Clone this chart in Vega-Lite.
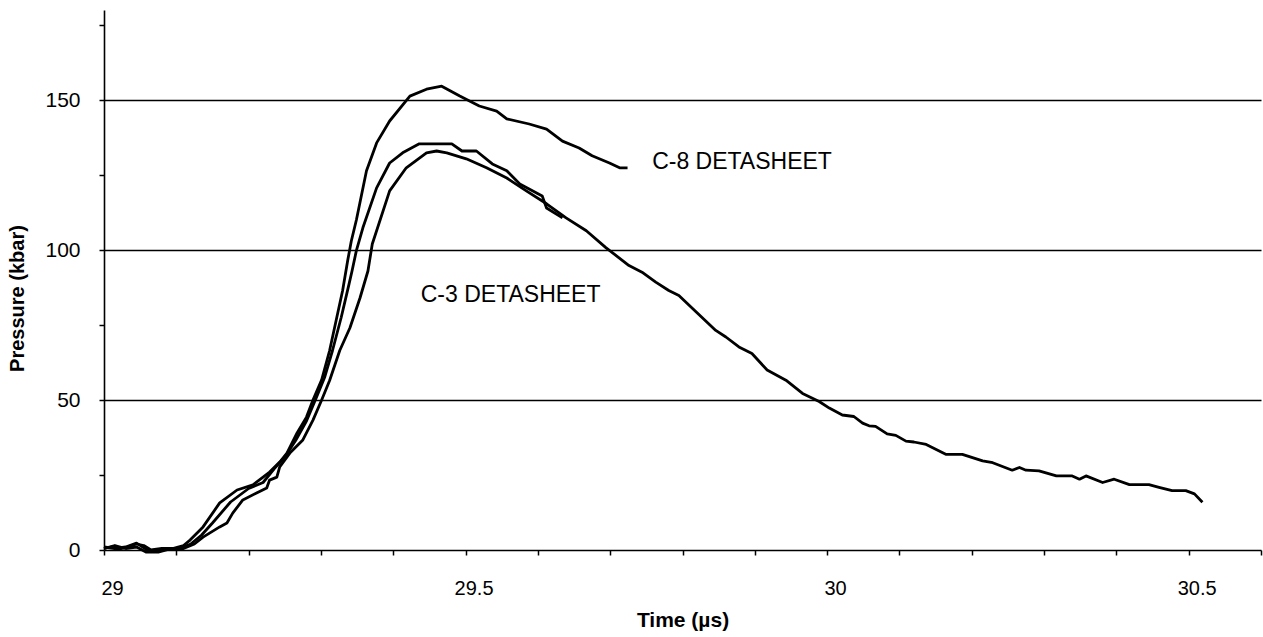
{
  "$schema": "https://vega.github.io/schema/vega-lite/v6.json",
  "width": 1157,
  "height": 540,
  "autosize": "none",
  "padding": {"left": 104, "top": 10, "right": 2, "bottom": 87},
  "background": "white",
  "config": {"view": {"stroke": null}, "font": "Liberation Sans"},
  "datasets": {
    "curves": [
      {"series": "C8", "t": 29.000, "p": 0.5},
      {"series": "C8", "t": 29.010, "p": 1.0},
      {"series": "C8", "t": 29.020, "p": 0.3},
      {"series": "C8", "t": 29.030, "p": 0.8},
      {"series": "C8", "t": 29.045, "p": 2.0},
      {"series": "C8", "t": 29.055, "p": 1.5},
      {"series": "C8", "t": 29.065, "p": 0.0},
      {"series": "C8", "t": 29.080, "p": 0.5},
      {"series": "C8", "t": 29.095, "p": 0.5},
      {"series": "C8", "t": 29.110, "p": 1.5},
      {"series": "C8", "t": 29.119, "p": 3.3},
      {"series": "C8", "t": 29.137, "p": 7.7},
      {"series": "C8", "t": 29.160, "p": 15.7},
      {"series": "C8", "t": 29.184, "p": 20.0},
      {"series": "C8", "t": 29.206, "p": 21.7},
      {"series": "C8", "t": 29.220, "p": 24.3},
      {"series": "C8", "t": 29.229, "p": 26.0},
      {"series": "C8", "t": 29.243, "p": 29.3},
      {"series": "C8", "t": 29.253, "p": 32.3},
      {"series": "C8", "t": 29.267, "p": 39.0},
      {"series": "C8", "t": 29.280, "p": 44.3},
      {"series": "C8", "t": 29.289, "p": 50.0},
      {"series": "C8", "t": 29.301, "p": 56.7},
      {"series": "C8", "t": 29.312, "p": 66.5},
      {"series": "C8", "t": 29.321, "p": 76.5},
      {"series": "C8", "t": 29.330, "p": 86.5},
      {"series": "C8", "t": 29.337, "p": 96.5},
      {"series": "C8", "t": 29.342, "p": 103.0},
      {"series": "C8", "t": 29.349, "p": 110.0},
      {"series": "C8", "t": 29.363, "p": 126.4},
      {"series": "C8", "t": 29.377, "p": 135.7},
      {"series": "C8", "t": 29.395, "p": 143.0},
      {"series": "C8", "t": 29.423, "p": 151.3},
      {"series": "C8", "t": 29.446, "p": 153.6},
      {"series": "C8", "t": 29.467, "p": 154.6},
      {"series": "C8", "t": 29.492, "p": 151.3},
      {"series": "C8", "t": 29.519, "p": 148.0},
      {"series": "C8", "t": 29.543, "p": 146.3},
      {"series": "C8", "t": 29.557, "p": 143.7},
      {"series": "C8", "t": 29.588, "p": 142.0},
      {"series": "C8", "t": 29.612, "p": 140.3},
      {"series": "C8", "t": 29.634, "p": 136.3},
      {"series": "C8", "t": 29.657, "p": 134.0},
      {"series": "C8", "t": 29.675, "p": 131.4},
      {"series": "C8", "t": 29.699, "p": 129.0},
      {"series": "C8", "t": 29.713, "p": 127.4},
      {"series": "C8", "t": 29.724, "p": 127.4},

      {"series": "B", "t": 29.000, "p": 1.0},
      {"series": "B", "t": 29.015, "p": 0.5},
      {"series": "B", "t": 29.030, "p": 1.0},
      {"series": "B", "t": 29.045, "p": 2.3},
      {"series": "B", "t": 29.060, "p": 0.0},
      {"series": "B", "t": 29.075, "p": -0.5},
      {"series": "B", "t": 29.090, "p": 0.5},
      {"series": "B", "t": 29.105, "p": 0.5},
      {"series": "B", "t": 29.120, "p": 2.0},
      {"series": "B", "t": 29.135, "p": 5.0},
      {"series": "B", "t": 29.150, "p": 9.0},
      {"series": "B", "t": 29.175, "p": 16.0},
      {"series": "B", "t": 29.200, "p": 20.5},
      {"series": "B", "t": 29.220, "p": 22.5},
      {"series": "B", "t": 29.235, "p": 27.0},
      {"series": "B", "t": 29.250, "p": 31.0},
      {"series": "B", "t": 29.265, "p": 36.5},
      {"series": "B", "t": 29.280, "p": 43.0},
      {"series": "B", "t": 29.294, "p": 51.0},
      {"series": "B", "t": 29.305, "p": 57.5},
      {"series": "B", "t": 29.316, "p": 66.5},
      {"series": "B", "t": 29.328, "p": 77.5},
      {"series": "B", "t": 29.339, "p": 88.8},
      {"series": "B", "t": 29.343, "p": 93.0},
      {"series": "B", "t": 29.349, "p": 99.8},
      {"series": "B", "t": 29.358, "p": 107.4},
      {"series": "B", "t": 29.377, "p": 120.7},
      {"series": "B", "t": 29.395, "p": 129.0},
      {"series": "B", "t": 29.413, "p": 132.4},
      {"series": "B", "t": 29.436, "p": 135.4},
      {"series": "B", "t": 29.481, "p": 135.4},
      {"series": "B", "t": 29.495, "p": 133.0},
      {"series": "B", "t": 29.515, "p": 133.0},
      {"series": "B", "t": 29.537, "p": 128.7},
      {"series": "B", "t": 29.557, "p": 126.4},
      {"series": "B", "t": 29.575, "p": 122.0},
      {"series": "B", "t": 29.606, "p": 118.0},
      {"series": "B", "t": 29.612, "p": 114.0},
      {"series": "B", "t": 29.634, "p": 110.7},

      {"series": "C3", "t": 29.000, "p": 0.5},
      {"series": "C3", "t": 29.015, "p": 1.5},
      {"series": "C3", "t": 29.030, "p": 0.5},
      {"series": "C3", "t": 29.045, "p": 1.0},
      {"series": "C3", "t": 29.058, "p": -0.7},
      {"series": "C3", "t": 29.075, "p": -0.7},
      {"series": "C3", "t": 29.090, "p": 0.3},
      {"series": "C3", "t": 29.110, "p": 0.5},
      {"series": "C3", "t": 29.125, "p": 2.0},
      {"series": "C3", "t": 29.137, "p": 4.3},
      {"series": "C3", "t": 29.160, "p": 7.7},
      {"series": "C3", "t": 29.170, "p": 9.0},
      {"series": "C3", "t": 29.178, "p": 12.3},
      {"series": "C3", "t": 29.192, "p": 16.7},
      {"series": "C3", "t": 29.211, "p": 19.0},
      {"series": "C3", "t": 29.225, "p": 20.7},
      {"series": "C3", "t": 29.229, "p": 23.3},
      {"series": "C3", "t": 29.239, "p": 24.3},
      {"series": "C3", "t": 29.243, "p": 27.7},
      {"series": "C3", "t": 29.257, "p": 32.3},
      {"series": "C3", "t": 29.275, "p": 36.7},
      {"series": "C3", "t": 29.289, "p": 43.3},
      {"series": "C3", "t": 29.301, "p": 50.0},
      {"series": "C3", "t": 29.312, "p": 56.5},
      {"series": "C3", "t": 29.326, "p": 66.5},
      {"series": "C3", "t": 29.340, "p": 74.0},
      {"series": "C3", "t": 29.354, "p": 84.0},
      {"series": "C3", "t": 29.365, "p": 93.0},
      {"series": "C3", "t": 29.371, "p": 102.0},
      {"series": "C3", "t": 29.395, "p": 119.7},
      {"series": "C3", "t": 29.418, "p": 127.4},
      {"series": "C3", "t": 29.446, "p": 132.4},
      {"series": "C3", "t": 29.460, "p": 133.0},
      {"series": "C3", "t": 29.474, "p": 132.4},
      {"series": "C3", "t": 29.501, "p": 130.4},
      {"series": "C3", "t": 29.529, "p": 127.4},
      {"series": "C3", "t": 29.557, "p": 124.0},
      {"series": "C3", "t": 29.584, "p": 119.7},
      {"series": "C3", "t": 29.612, "p": 115.4},
      {"series": "C3", "t": 29.639, "p": 110.7},
      {"series": "C3", "t": 29.667, "p": 106.4},
      {"series": "C3", "t": 29.694, "p": 100.8},
      {"series": "C3", "t": 29.726, "p": 94.8},
      {"series": "C3", "t": 29.744, "p": 92.6},
      {"series": "C3", "t": 29.763, "p": 89.3},
      {"series": "C3", "t": 29.781, "p": 86.5},
      {"series": "C3", "t": 29.795, "p": 84.8},
      {"series": "C3", "t": 29.819, "p": 79.3},
      {"series": "C3", "t": 29.846, "p": 73.2},
      {"series": "C3", "t": 29.860, "p": 71.0},
      {"series": "C3", "t": 29.878, "p": 67.7},
      {"series": "C3", "t": 29.896, "p": 65.5},
      {"series": "C3", "t": 29.917, "p": 60.0},
      {"series": "C3", "t": 29.943, "p": 56.6},
      {"series": "C3", "t": 29.966, "p": 52.2},
      {"series": "C3", "t": 29.989, "p": 49.5},
      {"series": "C3", "t": 30.003, "p": 47.3},
      {"series": "C3", "t": 30.021, "p": 45.0},
      {"series": "C3", "t": 30.037, "p": 44.5},
      {"series": "C3", "t": 30.049, "p": 42.3},
      {"series": "C3", "t": 30.058, "p": 41.4},
      {"series": "C3", "t": 30.067, "p": 41.2},
      {"series": "C3", "t": 30.083, "p": 38.7},
      {"series": "C3", "t": 30.095, "p": 38.2},
      {"series": "C3", "t": 30.109, "p": 36.3},
      {"series": "C3", "t": 30.120, "p": 36.0},
      {"series": "C3", "t": 30.137, "p": 35.2},
      {"series": "C3", "t": 30.164, "p": 31.9},
      {"series": "C3", "t": 30.187, "p": 31.9},
      {"series": "C3", "t": 30.201, "p": 30.8},
      {"series": "C3", "t": 30.215, "p": 29.7},
      {"series": "C3", "t": 30.229, "p": 29.1},
      {"series": "C3", "t": 30.256, "p": 26.6},
      {"series": "C3", "t": 30.266, "p": 27.5},
      {"series": "C3", "t": 30.275, "p": 26.6},
      {"series": "C3", "t": 30.293, "p": 26.4},
      {"series": "C3", "t": 30.317, "p": 24.7},
      {"series": "C3", "t": 30.339, "p": 24.7},
      {"series": "C3", "t": 30.349, "p": 23.6},
      {"series": "C3", "t": 30.358, "p": 24.7},
      {"series": "C3", "t": 30.381, "p": 22.5},
      {"series": "C3", "t": 30.397, "p": 23.6},
      {"series": "C3", "t": 30.418, "p": 21.8},
      {"series": "C3", "t": 30.445, "p": 21.8},
      {"series": "C3", "t": 30.459, "p": 20.9},
      {"series": "C3", "t": 30.477, "p": 19.8},
      {"series": "C3", "t": 30.496, "p": 19.8},
      {"series": "C3", "t": 30.508, "p": 18.7},
      {"series": "C3", "t": 30.519, "p": 15.9}
    ],
    "labels": [
      {"t": 29.758, "p": 129.3, "label": "C-8 DETASHEET"},
      {"t": 29.438, "p": 85.0, "label": "C-3 DETASHEET"}
    ]
  },
  "layer": [
    {
      "data": {"name": "curves"},
      "mark": {"type": "line", "color": "black", "strokeWidth": 2.8, "strokeJoin": "round"},
      "encoding": {
        "x": {
          "field": "t",
          "type": "quantitative",
          "title": "Time (µs)",
          "scale": {"domain": [29, 30.6], "nice": false, "zero": false},
          "axis": {
            "values": [29, 29.1, 29.2, 29.3, 29.4, 29.5, 29.6, 29.7, 29.8, 29.9, 30, 30.1, 30.2, 30.3, 30.4, 30.5, 30.6],
            "labelExpr": "datum.value == 29 || datum.value == 29.5 || datum.value == 30 || datum.value == 30.5 ? format(datum.value, '') : ''",
            "grid": false,
            "domainColor": "black",
            "domainWidth": 1.6,
            "tickColor": "black",
            "tickWidth": 1.5,
            "tickSize": 5,
            "labelPadding": 23,
            "labelOffset": 8,
            "labelFontSize": 20,
            "labelColor": "black",
            "labelFont": "Liberation Sans",
            "labelFlush": false,
            "labelOverlap": false,
            "titleFontSize": 21,
            "titleFontWeight": "bold",
            "titleColor": "black",
            "titleFont": "Liberation Sans",
            "titlePadding": 11
          }
        },
        "y": {
          "field": "p",
          "type": "quantitative",
          "title": "Pressure (kbar)",
          "scale": {"domain": [0, 180], "nice": false},
          "axis": {
            "values": [0, 25, 50, 75, 100, 125, 150, 175],
            "labelExpr": "datum.value % 50 == 0 ? datum.label : ''",
            "grid": true,
            "gridColor": "black",
            "gridWidth": 1.5,
            "gridOpacity": {"condition": {"test": "datum.value % 50 == 0 && datum.value > 0", "value": 1}, "value": 0},
            "domainColor": "black",
            "domainWidth": 1.6,
            "tickColor": "black",
            "tickWidth": 1.5,
            "tickSize": 5,
            "labelPadding": 19,
            "labelFontSize": 21,
            "labelColor": "black",
            "labelFont": "Liberation Sans",
            "labelFlush": false,
            "labelOverlap": false,
            "titleFontSize": 20,
            "titleFontWeight": "bold",
            "titleColor": "black",
            "titleFont": "Liberation Sans",
            "titleX": -77,
            "titleY": 288
          }
        },
        "detail": {"field": "series"}
      }
    },
    {
      "data": {"name": "labels"},
      "mark": {"type": "text", "align": "left", "baseline": "middle", "fontSize": 23, "font": "Liberation Sans", "color": "black"},
      "encoding": {
        "x": {"field": "t", "type": "quantitative"},
        "y": {"field": "p", "type": "quantitative"},
        "text": {"field": "label"}
      }
    }
  ]
}
